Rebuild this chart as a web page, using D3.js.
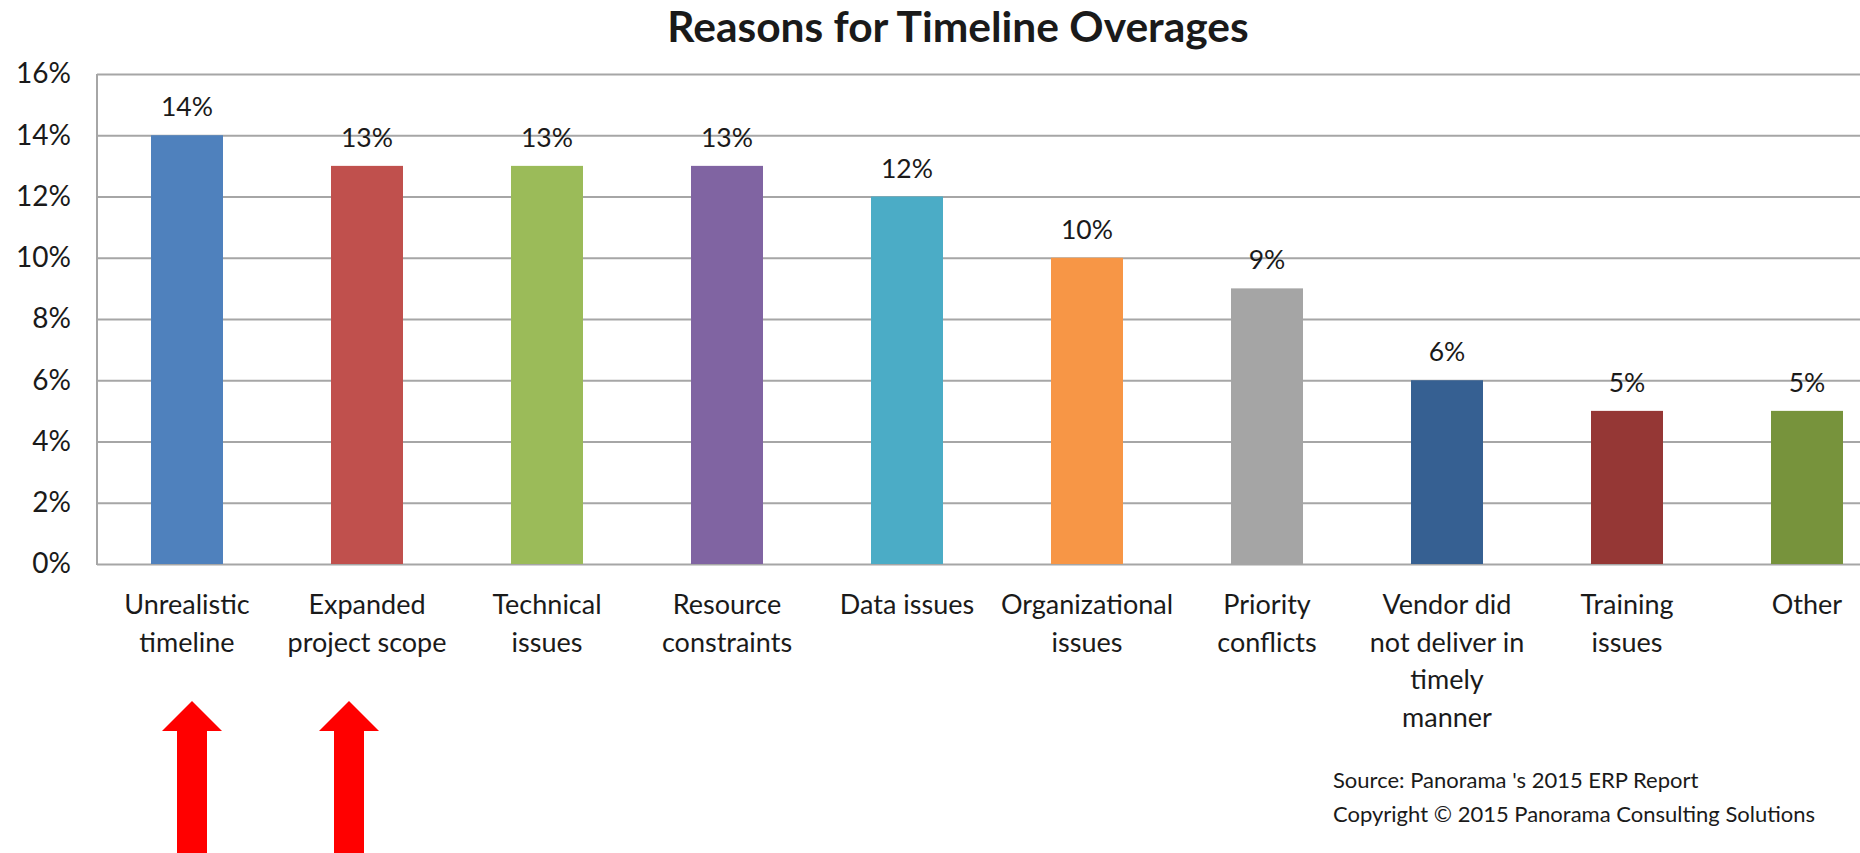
<!DOCTYPE html>
<html>
<head>
<meta charset="utf-8">
<script src="https://cdn.jsdelivr.net/npm/d3@7"></script>
<style>
body { margin: 0; background: #fff; }
text { font-family: Lato, "Open Sans", sans-serif; fill: #1a1a1a; }
</style>
</head>
<body>
<div id="chart"></div>
<script>
var categories = [
    ["Unrealistic", "timeline"],
    ["Expanded", "project scope"],
    ["Technical", "issues"],
    ["Resource", "constraints"],
    ["Data issues"],
    ["Organizational", "issues"],
    ["Priority", "conflicts"],
    ["Vendor did", "not deliver in", "timely", "manner"],
    ["Training", "issues"],
    ["Other"]
];
var values = [14, 13, 13, 13, 12, 10, 9, 6, 5, 5];
var colors = ["#4f81bd", "#c0504d", "#9bbb59", "#8064a2", "#4bacc6",
              "#f79646", "#a5a5a5", "#366092", "#953735", "#77933c"];
var yTicks = [0, 2, 4, 6, 8, 10, 12, 14, 16];
var title = "Reasons for Timeline Overages";
var sourceLines = ["Source:  Panorama 's 2015 ERP Report",
                   "Copyright \u00a9 2015 Panorama Consulting Solutions"];
// arrows point at the first two categories
var arrowTargets = [0, 1];
var arrowShift = [5, -18];

var width = 1860, height = 853;
var plot_left = 97, plot_right = 1860, plot_top = 74, plot_bottom = 564;

var svg = d3.select("#chart").append("svg")
    .attr("width", width)
    .attr("height", height);

var ids = categories.map(function(d, i) { return i; });

var x = d3.scaleBand()
    .domain(ids)
    .range([plot_left, plot_left + 180 * ids.length])
    .paddingInner(0.6)
    .paddingOuter(0.3);

var y = d3.scaleLinear()
    .domain([0, 16])
    .range([plot_bottom, plot_top]);

// gridlines
var yAxis = d3.axisLeft(y)
    .tickValues(yTicks)
    .tickSize(-(plot_right - plot_left))
    .tickPadding(26)
    .tickFormat(function(d) { return d + "%"; });

var gy = svg.append("g")
    .attr("transform", "translate(" + plot_left + ",0)")
    .call(yAxis);
gy.select(".domain").remove();
gy.selectAll(".tick line")
    .attr("stroke", "#a6a6a6")
    .attr("stroke-width", 2);
gy.selectAll(".tick text")
    .style("font-size", "28px")
    .attr("fill", "#1a1a1a");

// left axis line
svg.append("line")
    .attr("x1", plot_left).attr("x2", plot_left)
    .attr("y1", plot_top).attr("y2", plot_bottom + 1)
    .attr("stroke", "#a6a6a6")
    .attr("stroke-width", 2);

// bars
svg.selectAll("rect.bar")
    .data(values)
    .enter()
    .append("rect")
    .attr("class", "bar")
    .attr("x", function(d, i) { return x(i); })
    .attr("width", x.bandwidth())
    .attr("y", function(d) { return y(d); })
    .attr("height", function(d) { return y(0) - y(d); })
    .attr("fill", function(d, i) { return colors[i]; });

// value labels
svg.selectAll("text.val")
    .data(values)
    .enter()
    .append("text")
    .attr("class", "val")
    .attr("x", function(d, i) { return x(i) + x.bandwidth() / 2; })
    .attr("y", function(d) { return y(d) - 19; })
    .attr("text-anchor", "middle")
    .style("font-size", "26.5px")
    .text(function(d) { return d + "%"; });

// category labels
var cat = svg.selectAll("text.cat")
    .data(categories)
    .enter()
    .append("text")
    .attr("class", "cat")
    .attr("text-anchor", "middle")
    .style("font-size", "27px");
cat.each(function(lines, i) {
    d3.select(this).selectAll("tspan")
        .data(lines)
        .enter()
        .append("tspan")
        .attr("x", x(i) + x.bandwidth() / 2)
        .attr("y", function(d, j) { return 614 + j * 37.6; })
        .text(function(d) { return d; });
});

// title
svg.append("text")
    .attr("x", 958)
    .attr("y", 42)
    .attr("text-anchor", "middle")
    .style("font-size", "42.5px")
    .style("font-weight", "bold")
    .attr("fill", "#000")
    .text(title);

// source
svg.selectAll("text.src")
    .data(sourceLines)
    .enter()
    .append("text")
    .attr("class", "src")
    .attr("x", 1333)
    .attr("y", function(d, i) { return 788 + i * 34; })
    .style("font-size", "22px")
    .text(function(d) { return d; });

// red arrows
arrowTargets.forEach(function(t, k) {
    var cx = x(t) + x.bandwidth() / 2 + arrowShift[k];
    var tip = 701, base = 731, hw = 30, sw = 15;
    var pts = [[cx, tip], [cx + hw, base], [cx + sw, base], [cx + sw, height + 5],
               [cx - sw, height + 5], [cx - sw, base], [cx - hw, base]];
    svg.append("path")
        .attr("d", d3.line()(pts) + "Z")
        .attr("fill", "#ff0000");
});
</script>
</body>
</html>
